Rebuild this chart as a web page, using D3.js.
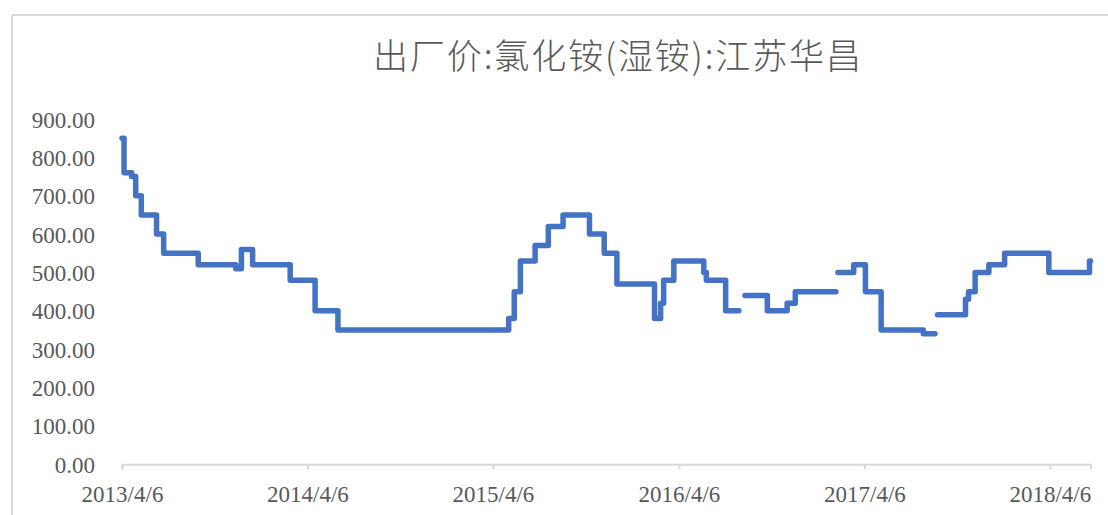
<!DOCTYPE html>
<html>
<head>
<meta charset="utf-8">
<script src="https://cdn.jsdelivr.net/npm/d3@7.9.0/dist/d3.min.js"></script>
<style>
  body { margin: 0; background: #fff; }
  svg { display: block; }
</style>
</head>
<body>
<svg id="chart" width="1108" height="515"></svg>
<script>
// Chart title
const title = "出厂价:氯化铵(湿铵):江苏华昌";

// Step change dates and the price from that date on (null = gap in the series)
const dates = [
  "2013-04-06", "2013-04-10", "2013-04-25", "2013-05-03", "2013-05-14",
  "2013-06-13", "2013-06-27", "2013-09-03", "2013-11-16", "2013-11-27",
  "2013-12-19", "2014-03-03", "2014-04-21", "2014-06-05", "2015-05-07",
  "2015-05-18", "2015-05-30", "2015-06-28", "2015-07-24", "2015-08-22",
  "2015-10-13", "2015-11-11", "2015-12-06", "2016-02-18", "2016-03-01",
  "2016-03-07", "2016-03-27", "2016-05-25", "2016-05-30", "2016-07-07",
  "2016-08-02", "2016-08-08", "2016-08-14", "2016-09-27", "2016-11-05",
  "2016-11-21", "2017-02-09", "2017-02-11", "2017-02-13", "2017-03-16",
  "2017-04-08", "2017-05-09", "2017-07-31", "2017-08-23", "2017-08-25",
  "2017-08-28", "2017-10-22", "2017-10-28", "2017-11-10", "2017-12-07",
  "2018-01-07", "2018-04-04", "2018-06-23", "2018-06-25"
];
const prices = [
  850, 760, 750, 700, 650,
  600, 550, 520, 510, 560,
  520, 480, 400, 350, 380,
  450, 530, 570, 620, 650,
  600, 550, 470, 380, 420,
  480, 530, 500, 480, 400,
  400, null, 440, 400, 420,
  450, 450, null, 500, 520,
  450, 350, 340, 340, null,
  390, 430, 450, 500, 520,
  550, 500, 530, 530
];

// Axis ticks
const yTicks = [0, 100, 200, 300, 400, 500, 600, 700, 800, 900];
const xTickLabels = ["2013/4/6", "2014/4/6", "2015/4/6", "2016/4/6", "2017/4/6", "2018/4/6"];

const parse = d3.timeParse("%Y-%m-%d");
const parseTick = d3.timeParse("%Y/%m/%d");
const data = dates.map((d, i) => ({ date: parse(d), value: prices[i] }));

const svg = d3.select("#chart");
const grey = "#d9d9d9";
const textGrey = "#595959";

// outer chart border (only top and left edges show in the crop)
svg.append("line").attr("x1", 12).attr("x2", 1108).attr("y1", 15).attr("y2", 15)
  .attr("stroke", grey).attr("stroke-width", 2);
svg.append("line").attr("x1", 12).attr("x2", 12).attr("y1", 15).attr("y2", 515)
  .attr("stroke", grey).attr("stroke-width", 2);

// title
svg.append("text")
  .attr("x", 617).attr("y", 69)
  .attr("text-anchor", "middle")
  .attr("font-family", "'Noto Sans CJK SC', sans-serif")
  .attr("font-size", 35)
  .attr("font-weight", 300)
  .attr("textLength", 488)
  .attr("lengthAdjust", "spacing")
  .attr("fill", textGrey)
  .text(title);

const x = d3.scaleTime()
  .domain([parse("2013-04-06"), parse("2018-06-25")])
  .range([122, 1090.5]);

const y = d3.scaleLinear()
  .domain([0, 900])
  .range([464.3, 119]);

// y axis labels (no axis line or gridlines)
svg.append("g")
  .selectAll("text")
  .data(yTicks)
  .join("text")
  .attr("x", 95)
  .attr("y", d => y(d) + 1)
  .attr("dominant-baseline", "central")
  .attr("text-anchor", "end")
  .attr("font-family", "'Liberation Serif', serif")
  .attr("font-size", 23)
  .attr("fill", textGrey)
  .text(d => d.toFixed(2));

// x axis
const xAxis = svg.append("g")
  .attr("transform", `translate(0,${y(0)})`)
  .call(d3.axisBottom(x)
    .tickValues(xTickLabels.map(parseTick))
    .tickFormat((d, i) => xTickLabels[i])
    .tickSizeOuter(5)
    .tickSize(5)
    .tickPadding(16));

xAxis.select(".domain").attr("stroke", grey).attr("stroke-width", 2);
xAxis.selectAll(".tick line").attr("stroke", grey).attr("stroke-width", 2);
xAxis.selectAll(".tick text")
  .attr("font-family", "'Liberation Serif', serif")
  .attr("font-size", 23)
  .attr("fill", textGrey);

// the price line
const line = d3.line()
  .defined(d => d.value !== null)
  .x(d => x(d.date))
  .y(d => y(d.value))
  .curve(d3.curveStepAfter);

svg.append("path")
  .datum(data)
  .attr("fill", "none")
  .attr("stroke", "#4472C4")
  .attr("stroke-width", 5.5)
  .attr("stroke-linejoin", "round")
  .attr("stroke-linecap", "round")
  .attr("d", line);
</script>
</body>
</html>
